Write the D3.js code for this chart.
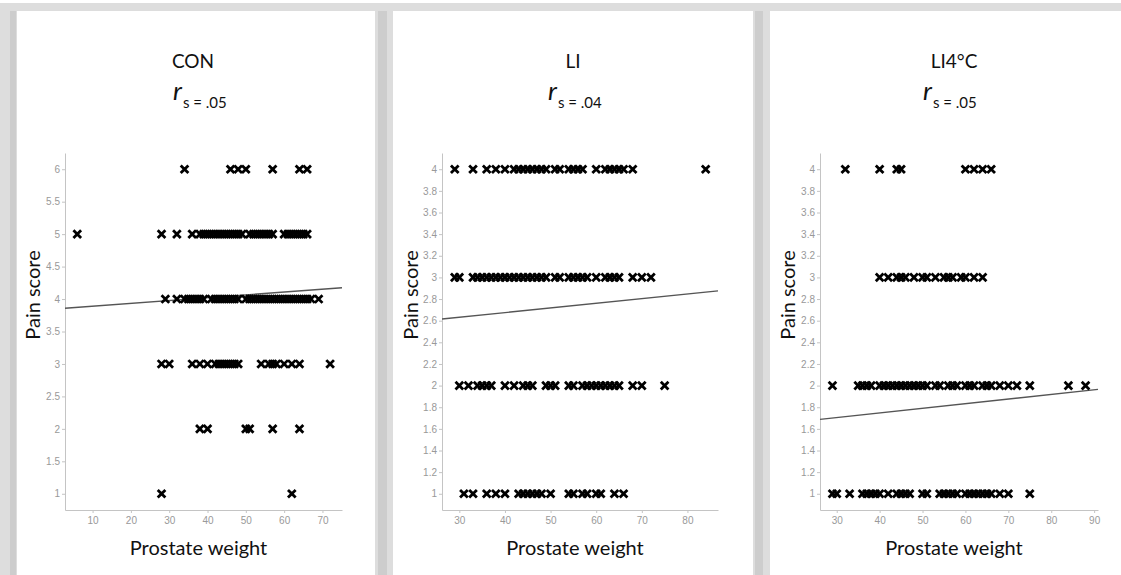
<!DOCTYPE html>
<html lang="en">
<head>
<meta charset="UTF-8">
<title>Pain score vs prostate weight</title>
<script src="https://d3js.org/d3.v7.min.js"></script>
<style>
  body { margin: 0; background: #fff; }
  .tick text { fill: #999; font-family: "Liberation Sans Narrow", "Liberation Sans", sans-serif; font-size: 10px; }
  .tick line { stroke: #c4c4c4; }
  .domain { stroke: #c4c4c4; }
  .lbl { font-family: Lato, "Open Sans", sans-serif; fill: #111; }
</style>
</head>
<body>
<script>
  // panel groups
  var groups = ["CON", "LI", "LI4°C"];
  var rsValues = [".05", ".04", ".05"];

  // prostate weight of each animal, by pain score
  var conWeights = {
    6: [34, 46, 48, 50, 57, 64, 66],
    5: [6, 28, 32, 36, 38, 39, 40, 41, 42, 43, 44, 45, 46, 47, 48, 49, 51, 52, 53, 54, 55, 56, 57, 60, 61, 62, 63, 64, 65, 66],
    4: [29, 32, 34, 35, 36, 37, 38, 39, 41, 42, 43, 44, 45, 46, 47, 48, 50, 51, 52, 53, 54, 55, 56, 57, 58, 59, 60, 61, 62, 63, 64, 65, 66, 67, 69],
    3: [28, 30, 36, 38, 40, 42, 43, 44, 45, 46, 47, 48, 54, 56, 57, 58, 60, 62, 64, 72],
    2: [38, 40, 50, 51, 57, 64],
    1: [28, 62]
  };
  var liWeights = {
    4: [29, 33, 36, 38, 40, 42, 43, 44, 45, 46, 47, 48, 49, 51, 52, 54, 55, 56, 57, 60, 62, 63, 64, 65, 66, 68, 84],
    3: [29, 30, 33, 34, 35, 36, 37, 38, 39, 40, 41, 42, 43, 44, 45, 46, 47, 48, 49, 51, 52, 54, 55, 56, 57, 58, 60, 62, 63, 64, 65, 68, 70, 72],
    2: [30, 32, 34, 35, 36, 37, 40, 42, 44, 45, 46, 49, 50, 51, 54, 55, 57, 58, 59, 60, 61, 62, 63, 64, 65, 68, 70, 75],
    1: [31, 33, 36, 38, 40, 43, 44, 45, 46, 47, 48, 50, 54, 55, 57, 58, 60, 61, 64, 66]
  };
  var li4Weights = {
    4: [32, 40, 44, 45, 60, 62, 64, 66],
    3: [40, 42, 44, 45, 46, 48, 50, 51, 53, 55, 56, 57, 59, 60, 62, 64],
    2: [29, 35, 36, 37, 38, 40, 41, 42, 43, 44, 45, 46, 47, 48, 49, 50, 51, 53, 54, 56, 57, 58, 60, 61, 62, 64, 65, 66, 68, 70, 72, 75, 84, 88],
    1: [29, 30, 33, 36, 37, 38, 39, 40, 42, 44, 45, 46, 47, 50, 51, 54, 55, 56, 57, 58, 60, 61, 62, 63, 64, 65, 66, 68, 70, 75]
  };

  // fitted line: intercept, slope
  var fits = [[3.845, 0.00439], [2.502, 0.00431], [1.576, 0.00428]];

  // axis domains and ticks
  var xDomains = [[2.8, 75.1], [26.2, 86.7], [26.1, 90.9]];
  var yDomains = [[0.75, 6.25], [0.85, 4.15], [0.85, 4.15]];
  var xTicks = [[10, 20, 30, 40, 50, 60, 70], [30, 40, 50, 60, 70, 80], [30, 40, 50, 60, 70, 80, 90]];
  var yTicksCon = [1, 1.5, 2, 2.5, 3, 3.5, 4, 4.5, 5, 5.5, 6];
  var yTicksLi = [1, 1.2, 1.4, 1.6, 1.8, 2, 2.2, 2.4, 2.6, 2.8, 3, 3.2, 3.4, 3.6, 3.8, 4];

  var allWeights = [conWeights, liWeights, li4Weights];
  var yTicks = [yTicksCon, yTicksLi, yTicksLi];

  var W = 1121, H = 575;
  var svg = d3.select("body").append("svg").attr("width", W).attr("height", H);

  // page: grey frame and three white sheets
  var sheets = [[17, 375], [393, 753], [770, 1121]];
  svg.append("rect").attr("x", 0).attr("y", 3).attr("width", W).attr("height", H - 3).attr("fill", "#dddddd");
  [[10, 16], [378, 387], [755, 763]].forEach(function(s) {
    svg.append("rect").attr("x", s[0]).attr("y", 11).attr("width", s[1] - s[0]).attr("height", H - 11).attr("fill", "#cdcdcd");
  });
  sheets.forEach(function(s) {
    svg.append("rect").attr("x", s[0]).attr("y", 11).attr("width", s[1] - s[0]).attr("height", H - 11).attr("fill", "#fff");
  });

  // plot areas (left, right) inside each sheet
  var plotX = [[65, 342], [442, 718], [820, 1098]];
  var plotY = [153, 510];
  var titleX = [193, 573, 954];
  var rX = [173, 548, 923];
  var yLabelX = [40, 418, 795];

  var cross = d3.symbol().type(d3.symbolX).size(40);

  groups.forEach(function(g, i) {
    var x = d3.scaleLinear().domain(xDomains[i]).range(plotX[i]);
    var y = d3.scaleLinear().domain(yDomains[i]).range([plotY[1], plotY[0]]);

    svg.append("g")
      .attr("transform", "translate(0," + plotY[1] + ")")
      .call(d3.axisBottom(x).tickValues(xTicks[i]).tickSize(3).tickSizeOuter(0).tickPadding(4));
    svg.append("g")
      .attr("transform", "translate(" + plotX[i][0] + ",0)")
      .call(d3.axisLeft(y).tickValues(yTicks[i]).tickFormat(function(d) { return String(d); }).tickSize(3).tickSizeOuter(0).tickPadding(2));

    // regression line
    var f = fits[i];
    svg.append("line")
      .attr("x1", x(xDomains[i][0])).attr("y1", y(f[0] + f[1] * xDomains[i][0]))
      .attr("x2", x(xDomains[i][1])).attr("y2", y(f[0] + f[1] * xDomains[i][1]))
      .attr("stroke", "#555").attr("stroke-width", 1.4);

    // points
    var pts = [];
    Object.keys(allWeights[i]).forEach(function(k) {
      allWeights[i][k].forEach(function(w) { pts.push({x: w, y: +k}); });
    });
    svg.append("g").selectAll("path")
      .data(pts).enter().append("path")
      .attr("transform", function(d) { return "translate(" + x(d.x) + "," + y(d.y) + ")"; })
      .attr("d", cross)
      .attr("fill", "none")
      .attr("stroke", "#000")
      .attr("stroke-width", 2.8);

    // titles
    svg.append("text").attr("class", "lbl")
      .attr("x", titleX[i]).attr("y", 68)
      .attr("text-anchor", "middle").attr("font-size", 19)
      .text(g);
    var rs = svg.append("text").attr("class", "lbl").attr("x", rX[i]).attr("y", 100);
    rs.append("tspan").attr("font-size", 26).attr("font-style", "italic").text("r");
    rs.append("tspan").attr("font-size", 15).attr("dy", 8).attr("dx", 1).text("s = " + rsValues[i]);

    // axis labels
    svg.append("text").attr("class", "lbl")
      .attr("x", (plotX[i][0] + plotX[i][1]) / 2 - 5).attr("y", 555)
      .attr("text-anchor", "middle").attr("font-size", 20)
      .text("Prostate weight");
    svg.append("text").attr("class", "lbl")
      .attr("transform", "translate(" + yLabelX[i] + ",295) rotate(-90)")
      .attr("text-anchor", "middle").attr("font-size", 20)
      .text("Pain score");
  });
</script>
</body>
</html>
